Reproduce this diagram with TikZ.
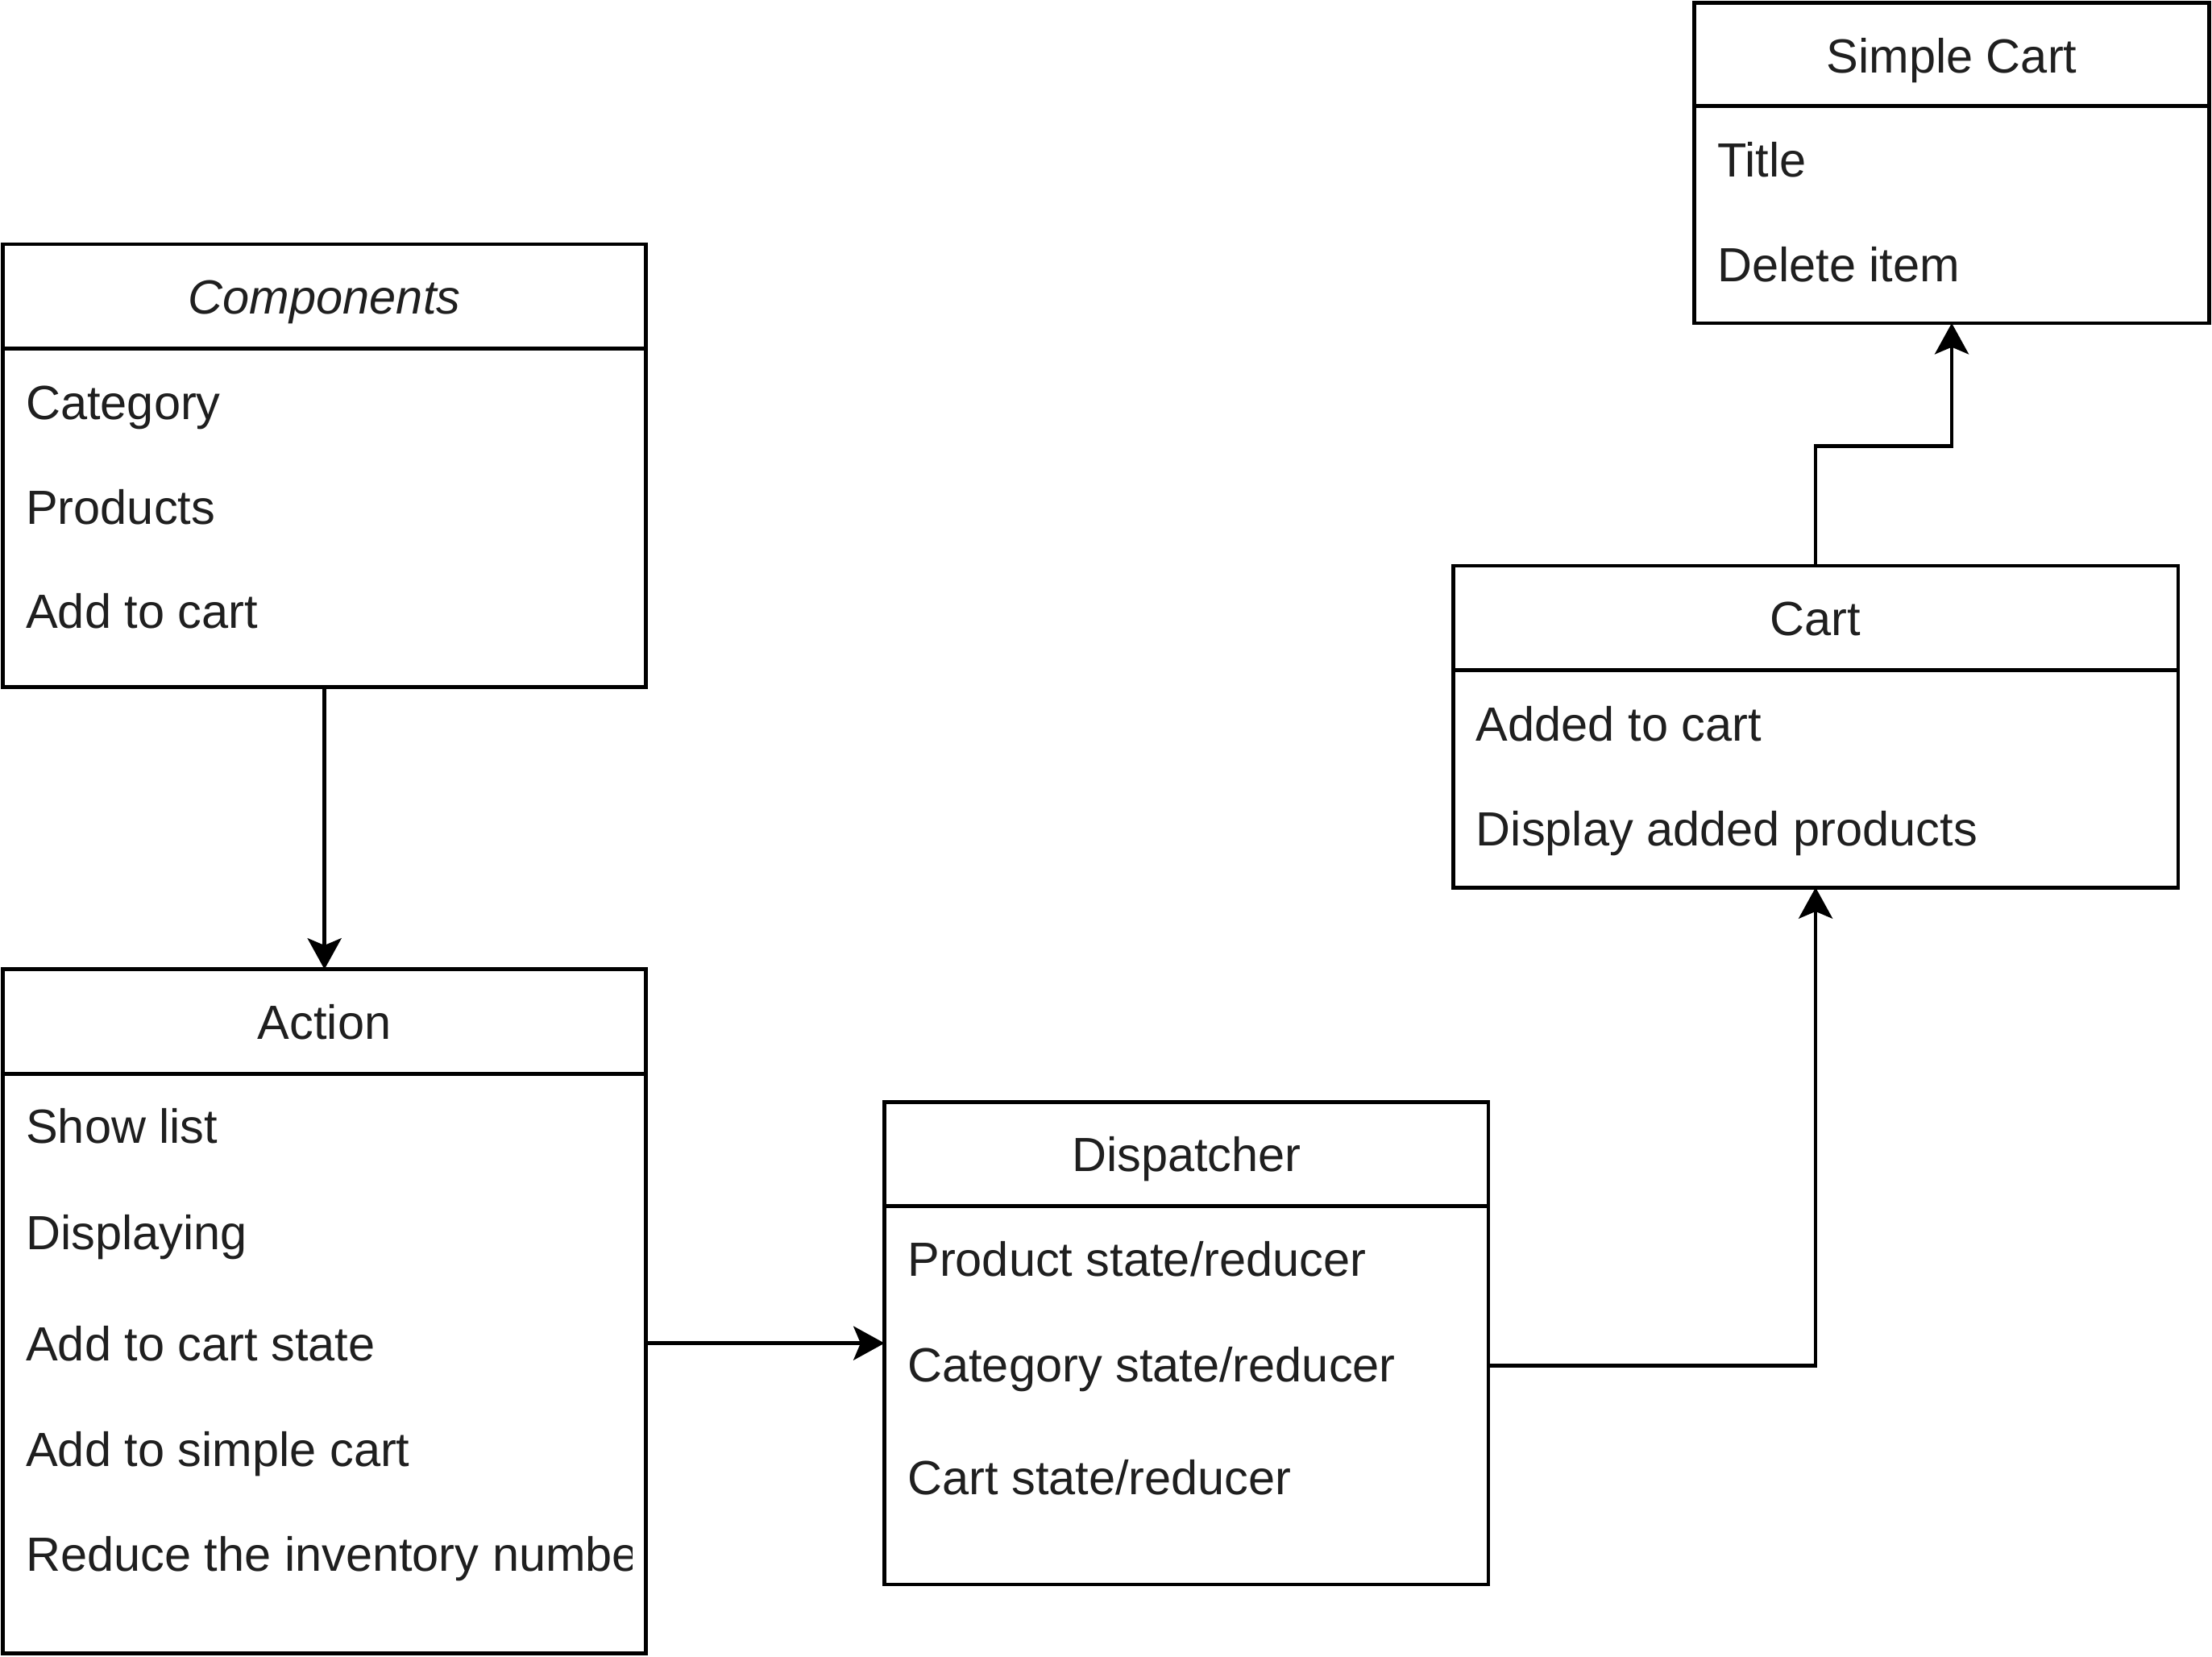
\documentclass[tikz,border=0pt]{standalone}
\usepackage{fontspec}
\setmainfont{Liberation Sans}
\usetikzlibrary{arrows.meta}
\tikzset{
  box/.style={draw=black, line width=1.35pt, fill=white, inner sep=0pt, outer sep=0pt, anchor=north west},
  sep/.style={draw=black, line width=1.35pt},
  item/.style={anchor=base west, inner sep=0pt, font=\fontsize{17}{20}\selectfont, text=black!88},
  ttl/.style={anchor=base, inner sep=0pt, font=\fontsize{17}{20}\selectfont, text=black!88},
  arr/.style={draw=black, line width=1.35pt, -{Stealth[length=11pt, width=12pt, inset=2.5pt]}},
}
\begin{document}
\begin{tikzpicture}[x=0.5pt, y=-0.5pt]
\useasboundingbox (0,0) rectangle (1568,1174);

% Components
\node[box, minimum width=228pt, minimum height=157pt] (comp) at (2,173) {};
\draw[sep] (2,247) -- (458,247);
\node[ttl] (compt) at (230,222.5) {\itshape Components};
\node[item] (c1) at (18,297.5) {Category};
\node[item] (c2) at (18,371.5) {Products};
\node[item] (c3) at (18,445.5) {Add to cart};

% Action
\node[box, minimum width=228pt, minimum height=242.5pt] (action) at (2,687) {};
\draw[sep] (2,761) -- (458,761);
\node[ttl] (actiont) at (230,736.5) {Action};
\node[item] (a1) at (18,810.5) {Show list};
\node[item] (a2) at (18,885.5) {Displaying};
\node[item] (a3) at (18,964.5) {Add to cart state};
\node[item] (a4) at (18,1039.5) {Add to simple cart};
\begin{scope}
\clip (4,1060) rectangle (448,1140);
\node[item] (a5) at (18,1113.5) {Reduce the inventory number};
\end{scope}

% Dispatcher
\node[box, minimum width=214pt, minimum height=171pt] (disp) at (627,781) {};
\draw[sep] (627,855) -- (1055,855);
\node[ttl] (dispt) at (841,830.5) {Dispatcher};
\node[item] (d1) at (643,904.5) {Product state/reducer};
\node[item] (d2) at (643,979.5) {Category state/reducer};
\node[item] (d3) at (643,1059.5) {Cart state/reducer};

% Cart
\node[box, minimum width=257pt, minimum height=114pt] (cart) at (1030,401) {};
\draw[sep] (1030,475) -- (1544,475);
\node[ttl] (cartt) at (1287,450.5) {Cart};
\node[item] (k1) at (1046,525.5) {Added to cart};
\node[item] (k2) at (1046,599.5) {Display added products};

% Simple Cart
\node[box, minimum width=182.5pt, minimum height=113.5pt] (simple) at (1201,2) {};
\draw[sep] (1201,75) -- (1566,75);
\node[ttl] (simplet) at (1383.5,51.5) {Simple Cart};
\node[item] (s1) at (1217,125.5) {Title};
\node[item] (s2) at (1217,199.5) {Delete item};

% Connectors
\draw[arr] (comp.south) -- (action.north);
\draw[arr] (action.east |- 0,952) -- (disp.west |- 0,952);
\draw[arr] (disp.east |- 0,968) -| (cart.south);
\draw[arr] (cart.north) -- ++(0,-85) -| (simple.south);
\end{tikzpicture}
\end{document}
